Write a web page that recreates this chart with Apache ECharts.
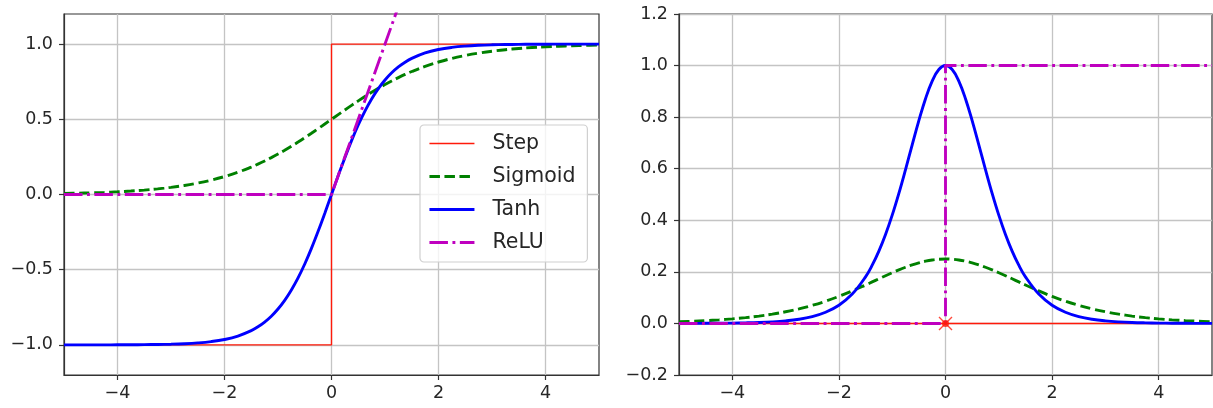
<!DOCTYPE html>
<html>
<head>
<meta charset="utf-8">
<script src="https://cdn.jsdelivr.net/npm/echarts@6/dist/echarts.min.js"></script>
<style>
  html, body { margin: 0; padding: 0; background: #fff; }
  #chart { width: 1213px; height: 408px; }
</style>
</head>
<body>
<div id="chart"></div>
<script>
// Sample positions along z (finer spacing through the steep middle part)
const zValues = [-5, -4.75, -4.5, -4.25, -4, -3.75, -3.5, -3.25, -3, -2.75, -2.5, -2.25, -2, -1.75,
                 -1.5, -1.375, -1.25, -1.125, -1, -0.875, -0.75, -0.625, -0.5, -0.375, -0.25, -0.125,
                 0, 0.125, 0.25, 0.375, 0.5, 0.625, 0.75, 0.875, 1, 1.125, 1.25, 1.375, 1.5,
                 1.75, 2, 2.25, 2.5, 2.75, 3, 3.25, 3.5, 3.75, 4, 4.25, 4.5, 4.75, 5];

// Activation functions
const sigmoidValues = [0.0067, 0.0086, 0.0110, 0.0141, 0.0180, 0.0230, 0.0293, 0.0373, 0.0474, 0.0601, 0.0759, 0.0953, 0.1192, 0.1480,
                       0.1824, 0.2018, 0.2227, 0.2451, 0.2689, 0.2942, 0.3208, 0.3486, 0.3775, 0.4073, 0.4378, 0.4688,
                       0.5000, 0.5312, 0.5622, 0.5927, 0.6225, 0.6514, 0.6792, 0.7058, 0.7311, 0.7549, 0.7773, 0.7982, 0.8176,
                       0.8520, 0.8808, 0.9047, 0.9241, 0.9399, 0.9526, 0.9627, 0.9707, 0.9770, 0.9820, 0.9859, 0.9890, 0.9914, 0.9933];
const tanhValues = [-0.9999, -0.9999, -0.9998, -0.9996, -0.9993, -0.9989, -0.9982, -0.9970, -0.9951, -0.9919, -0.9866, -0.9780, -0.9640, -0.9414,
                    -0.9051, -0.8798, -0.8483, -0.8093, -0.7616, -0.7039, -0.6351, -0.5546, -0.4621, -0.3584, -0.2449, -0.1244,
                    0, 0.1244, 0.2449, 0.3584, 0.4621, 0.5546, 0.6351, 0.7039, 0.7616, 0.8093, 0.8483, 0.8798, 0.9051,
                    0.9414, 0.9640, 0.9780, 0.9866, 0.9919, 0.9951, 0.9970, 0.9982, 0.9989, 0.9993, 0.9996, 0.9998, 0.9999, 0.9999];
const stepX = [-5, 0, 0, 5];
const stepY = [-1, -1, 1, 1];
const reluX = [-5, 0, 5];
const reluY = [0, 0, 5];

// Derivatives
const sigmoidDeriv = [0.0066, 0.0085, 0.0109, 0.0139, 0.0177, 0.0225, 0.0285, 0.0359, 0.0452, 0.0565, 0.0701, 0.0862, 0.1050, 0.1261,
                      0.1491, 0.1611, 0.1731, 0.1850, 0.1966, 0.2077, 0.2179, 0.2271, 0.2350, 0.2414, 0.2461, 0.2490,
                      0.2500, 0.2490, 0.2461, 0.2414, 0.2350, 0.2271, 0.2179, 0.2077, 0.1966, 0.1850, 0.1731, 0.1611, 0.1491,
                      0.1261, 0.1050, 0.0862, 0.0701, 0.0565, 0.0452, 0.0359, 0.0285, 0.0225, 0.0177, 0.0139, 0.0109, 0.0085, 0.0066];
const tanhDeriv = [0.0002, 0.0003, 0.0005, 0.0008, 0.0013, 0.0022, 0.0036, 0.0060, 0.0099, 0.0162, 0.0266, 0.0435, 0.0707, 0.1138,
                   0.1807, 0.2259, 0.2805, 0.3450, 0.4200, 0.5045, 0.5966, 0.6924, 0.7864, 0.8716, 0.9400, 0.9845,
                   1.0000, 0.9845, 0.9400, 0.8716, 0.7864, 0.6924, 0.5966, 0.5045, 0.4200, 0.3450, 0.2805, 0.2259, 0.1807,
                   0.1138, 0.0707, 0.0435, 0.0266, 0.0162, 0.0099, 0.0060, 0.0036, 0.0022, 0.0013, 0.0008, 0.0005, 0.0003, 0.0002];
const stepDerivX = [-5, 5];
const stepDerivY = [0, 0];
const reluDerivX = [-5, 0, 0, 5];
const reluDerivY = [0, 0, 1, 1];
const singularPoint = [[0, 0]];

// Tick labels
const xTicks = [-4, -2, 0, 2, 4];
const leftYTicks = [-1, -0.5, 0, 0.5, 1];
const rightYTicks = [-0.2, 0, 0.2, 0.4, 0.6, 0.8, 1.0, 1.2];

const legendNames = ['Step', 'Sigmoid', 'Tanh', 'ReLU'];

const pairs = (xs, ys) => xs.map((x, i) => [x, ys[i]]);

const FONT = 'DejaVu Sans';
const TEXT = '#262626';
const SPINE = '#333';
const GRIDC = '#c4c4c4';
const RED = '#ff1a0a';
const GREEN = '#008000';
const BLUE = '#0000ff';
const MAGENTA = '#bf00bf';
const LW = 2.9;
const DASHED = [10.5, 4.5];
const DASHDOT = [18.5, 4.5, 2.9, 4.5];

const fmt1 = v => {
  if (Math.abs(v) < 1e-9) v = 0;
  return (v < 0 ? '\u2212' : '') + Math.abs(v).toFixed(1);
};
const fmtInt = v => {
  if (Math.abs(v) < 1e-9) v = 0;
  return (v < 0 ? '\u2212' : '') + Math.abs(v);
};

function xAxisFor(gridIndex) {
  return {
    type: 'value', gridIndex, min: -5, max: 5,
    axisLine: { show: true, onZero: false, lineStyle: { color: SPINE, width: 1.2 } },
    axisTick: { show: true, length: 5, customValues: xTicks, lineStyle: { color: SPINE, width: 1.2 } },
    axisLabel: { customValues: xTicks, formatter: fmtInt, fontFamily: FONT, fontSize: 17.5, color: TEXT, margin: 9 },
    splitLine: { show: true, lineStyle: { color: GRIDC, width: 1.3 } }
  };
}

function yAxisFor(gridIndex, min, max, ticks) {
  return {
    type: 'value', gridIndex, min, max,
    axisLine: { show: true, onZero: false, lineStyle: { color: SPINE, width: 1.2 } },
    axisTick: { show: true, length: 5, customValues: ticks, lineStyle: { color: SPINE, width: 1.2 } },
    axisLabel: { customValues: ticks, formatter: fmt1, fontFamily: FONT, fontSize: 17.5, color: TEXT, margin: 11 },
    splitLine: { show: true, lineStyle: { color: GRIDC, width: 1.3 } }
  };
}

function lineSeries(name, axisIndex, data, color, width, dash, smooth) {
  return {
    name, type: 'line', xAxisIndex: axisIndex, yAxisIndex: axisIndex,
    data, showSymbol: false, symbol: 'none', smooth: smooth ? 0.4 : false,
    lineStyle: { color, width, type: dash || 'solid' },
    itemStyle: { color },
    emphasis: { disabled: true },
    animation: false
  };
}

const chart = echarts.init(document.getElementById('chart'), null, { renderer: 'canvas' });

chart.setOption({
  animation: false,
  backgroundColor: '#fff',
  grid: [
    { left: 64, top: 14, width: 535, height: 361, show: true, borderColor: SPINE, borderWidth: 1.2, backgroundColor: 'transparent' },
    { left: 679, top: 14, width: 533, height: 361, show: true, borderColor: SPINE, borderWidth: 1.2, backgroundColor: 'transparent' }
  ],
  xAxis: [xAxisFor(0), xAxisFor(1)],
  yAxis: [
    yAxisFor(0, -1.2, 1.2, leftYTicks),
    yAxisFor(1, -0.2, 1.2, rightYTicks)
  ],
  legend: {
    data: legendNames,
    orient: 'vertical',
    left: 420, top: 125,
    itemWidth: 45, itemHeight: 21, itemGap: 12,
    padding: [8, 12, 9, 8],
    backgroundColor: 'rgba(255,255,255,0.8)',
    borderColor: '#d0d0d0', borderWidth: 1.2, borderRadius: 4,
    itemStyle: { opacity: 0 },
    lineStyle: { width: 'inherit' },
    textStyle: { fontFamily: FONT, fontSize: 20.5, color: TEXT, padding: [0, 0, 0, 13], lineHeight: 21 },
    selectedMode: false
  },
  series: [
    lineSeries('Step', 0, pairs(stepX, stepY), RED, 1.4, null, false),
    lineSeries('Sigmoid', 0, pairs(zValues, sigmoidValues), GREEN, LW, DASHED, true),
    lineSeries('Tanh', 0, pairs(zValues, tanhValues), BLUE, LW, null, true),
    lineSeries('ReLU', 0, pairs(reluX, reluY), MAGENTA, LW, DASHDOT, false),

    lineSeries('dStep', 1, pairs(stepDerivX, stepDerivY), RED, 1.4, null, false),
    lineSeries('dSigmoid', 1, pairs(zValues, sigmoidDeriv), GREEN, LW, DASHED, true),
    lineSeries('dTanh', 1, pairs(zValues, tanhDeriv), BLUE, LW, null, true),
    lineSeries('dReLU', 1, pairs(reluDerivX, reluDerivY), MAGENTA, LW, DASHDOT, false),
    {
      name: 'stepDot', type: 'scatter', xAxisIndex: 1, yAxisIndex: 1,
      data: singularPoint, symbol: 'circle', symbolSize: 7, z: 5,
      itemStyle: { color: RED }, emphasis: { disabled: true }, animation: false
    },
    {
      name: 'stepCross', type: 'scatter', xAxisIndex: 1, yAxisIndex: 1,
      data: singularPoint, symbol: 'path://M0,0L10,10M10,0L0,10', symbolSize: 13, z: 5,
      itemStyle: { color: 'transparent', borderColor: RED, borderWidth: 1.4 },
      emphasis: { disabled: true }, animation: false
    }
  ]
});
</script>
</body>
</html>
